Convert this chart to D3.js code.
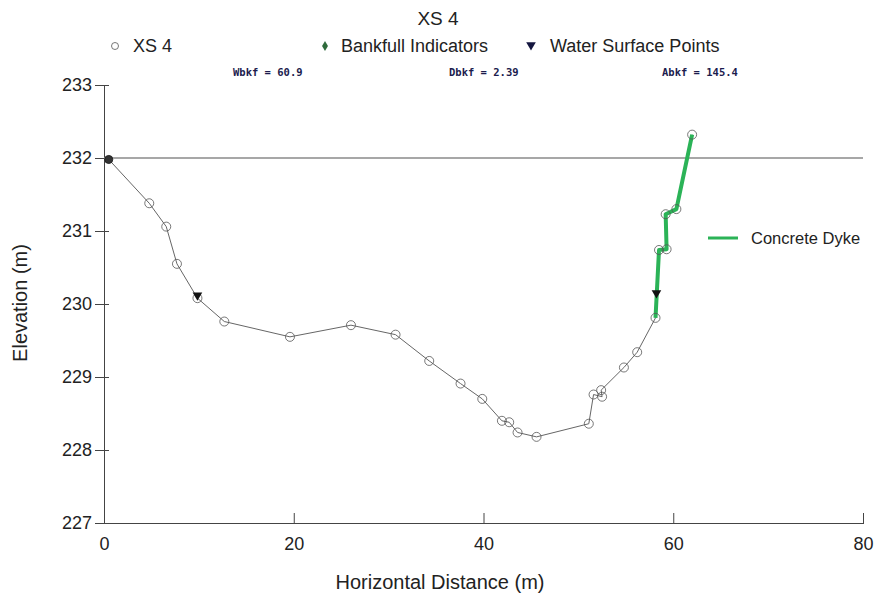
<!DOCTYPE html>
<html>
<head>
<meta charset="utf-8">
<script src="https://cdn.jsdelivr.net/npm/d3@7"></script>
<style>
  html, body { margin: 0; padding: 0; background: #fff; }
  svg text { font-family: Arial, "Liberation Sans", sans-serif; }
</style>
</head>
<body>
<div id="chart"></div>
<script>
// XS 4 cross-section survey
const xsDist = [0.5, 4.77, 6.56, 7.69, 9.85, 12.68, 19.6, 26.03, 30.73, 34.28, 37.58, 39.87, 41.94, 42.71, 43.59, 45.59, 51.1, 51.6, 52.5, 52.4, 54.8, 56.2, 58.13, 58.5, 59.3, 59.2, 60.33, 61.99];
const xsElev = [231.98, 231.38, 231.06, 230.55, 230.08, 229.76, 229.55, 229.71, 229.58, 229.22, 228.91, 228.70, 228.40, 228.38, 228.24, 228.18, 228.36, 228.76, 228.73, 228.82, 229.13, 229.34, 229.81, 230.74, 230.75, 231.23, 231.30, 232.32];

const bankfullDist = [0.5];
const bankfullElev = [231.98];

const wsDist = [9.85, 58.23];
const wsElev = [230.12, 230.15];

const dykeDist = [58.13, 58.5, 59.3, 59.2, 60.33, 61.99];
const dykeElev = [229.81, 230.74, 230.75, 231.23, 231.30, 232.32];

const bankfullLevel = 232.0;
const xTicks = [0, 20, 40, 60, 80];
const yTicks = [227, 228, 229, 230, 231, 232, 233];
const stats = ['Wbkf = 60.9', 'Dbkf = 2.39', 'Abkf = 145.4'];

const W = 876, H = 599;
const margin = {top: 85, right: 13, bottom: 76, left: 104};

const svg = d3.select('#chart').append('svg').attr('width', W).attr('height', H);

const x = d3.scaleLinear().domain([0, 80]).range([margin.left, W - margin.right]);
const y = d3.scaleLinear().domain([227, 233]).range([H - margin.bottom, margin.top]);

// axes
const xAxis = svg.append('g')
  .attr('transform', `translate(0,${y(227)})`)
  .call(d3.axisBottom(x).tickValues(xTicks).tickFormat(d3.format('d')).tickSizeOuter(0).tickSizeInner(-10).tickPadding(14));
xAxis.selectAll('text').attr('font-size', 18).attr('fill', '#222');
xAxis.selectAll('line').attr('stroke', '#444').attr('y1', 1);
xAxis.select('.domain').attr('stroke', '#444');

const yAxis = svg.append('g')
  .attr('transform', `translate(${x(0)},0)`)
  .call(d3.axisLeft(y).tickValues(yTicks).tickFormat(d3.format('d')).tickSizeOuter(0).tickSizeInner(9).tickPadding(3));
yAxis.selectAll('text').attr('font-size', 18).attr('fill', '#222');
yAxis.selectAll('line').attr('stroke', '#444').attr('x1', 5);
yAxis.select('.domain').attr('stroke', '#444');

// bankfull level
svg.append('line')
  .attr('x1', x(0)).attr('x2', x(80))
  .attr('y1', y(bankfullLevel)).attr('y2', y(bankfullLevel))
  .attr('stroke', '#8a8a8a').attr('stroke-width', 1.3);

// cross-section line
const xsData = xsDist.map((d, i) => ({x: d, y: xsElev[i]}));
const line = d3.line().x(d => x(d.x)).y(d => y(d.y));
svg.append('path').datum(xsData)
  .attr('d', line).attr('fill', 'none')
  .attr('stroke', '#666').attr('stroke-width', 1);

// concrete dyke
const dykeData = dykeDist.map((d, i) => ({x: d, y: dykeElev[i]}));
svg.append('path').datum(dykeData)
  .attr('d', line).attr('fill', 'none')
  .attr('stroke', '#2bb357').attr('stroke-width', 4).attr('stroke-linejoin', 'round');

// survey points
svg.append('g').selectAll('circle').data(xsData.slice(1)).enter().append('circle')
  .attr('cx', d => x(d.x)).attr('cy', d => y(d.y)).attr('r', 4.5)
  .attr('fill', 'none').attr('stroke', '#555').attr('stroke-width', 0.8);

// bankfull indicator
svg.append('g').selectAll('circle').data(bankfullDist).enter().append('circle')
  .attr('cx', d => x(d)).attr('cy', (d, i) => y(bankfullElev[i])).attr('r', 4)
  .attr('fill', '#333').attr('stroke', '#222');

// water surface points
const tri = d3.symbol().type(d3.symbolTriangle).size(40);
svg.append('g').selectAll('path').data(wsDist).enter().append('path')
  .attr('d', tri)
  .attr('transform', (d, i) => `translate(${x(d)},${y(wsElev[i])}) rotate(180)`)
  .attr('fill', '#111');

// title
svg.append('text').attr('x', 438).attr('y', 25).attr('text-anchor', 'middle')
  .attr('font-size', 19).attr('fill', '#222').text('XS 4');

// legend
const lg = svg.append('g');
lg.append('circle').attr('cx', 115).attr('cy', 46).attr('r', 3.5)
  .attr('fill', 'none').attr('stroke', '#555').attr('stroke-width', 0.8);
lg.append('text').attr('x', 133).attr('y', 52).attr('font-size', 18).attr('fill', '#222').text('XS 4');
lg.append('path').attr('d', d3.symbol().type(d3.symbolDiamond).size(30)())
  .attr('transform', 'translate(325,46)').attr('fill', '#2f6b3c');
lg.append('text').attr('x', 341).attr('y', 52).attr('font-size', 18).attr('fill', '#222').text('Bankfull Indicators');
lg.append('path').attr('d', d3.symbol().type(d3.symbolTriangle).size(40)())
  .attr('transform', 'translate(531,45) rotate(180)').attr('fill', '#14163f');
lg.append('text').attr('x', 550).attr('y', 52).attr('font-size', 18).attr('fill', '#222').text('Water Surface Points');

// bankfull stats
const statX = [233, 449, 662];
svg.append('g').selectAll('text').data(stats).enter().append('text')
  .attr('x', (d, i) => statX[i]).attr('y', 76)
  .style('font-family', '"DejaVu Sans Mono", monospace')
  .attr('font-size', 10.5).attr('font-weight', 'bold')
  .attr('fill', '#1c1c4e').text(d => d);

// dyke legend
svg.append('line').attr('x1', 708).attr('x2', 738).attr('y1', 238).attr('y2', 238)
  .attr('stroke', '#2bb357').attr('stroke-width', 3);
svg.append('text').attr('x', 751).attr('y', 244).attr('font-size', 16.5).attr('fill', '#222').text('Concrete Dyke');

// axis titles
svg.append('text').attr('x', 440).attr('y', 589).attr('text-anchor', 'middle')
  .attr('font-size', 20).attr('fill', '#222').text('Horizontal Distance (m)');
svg.append('text').attr('transform', 'translate(27,303) rotate(-90)').attr('text-anchor', 'middle')
  .attr('font-size', 20).attr('fill', '#222').text('Elevation (m)');
</script>
</body>
</html>
